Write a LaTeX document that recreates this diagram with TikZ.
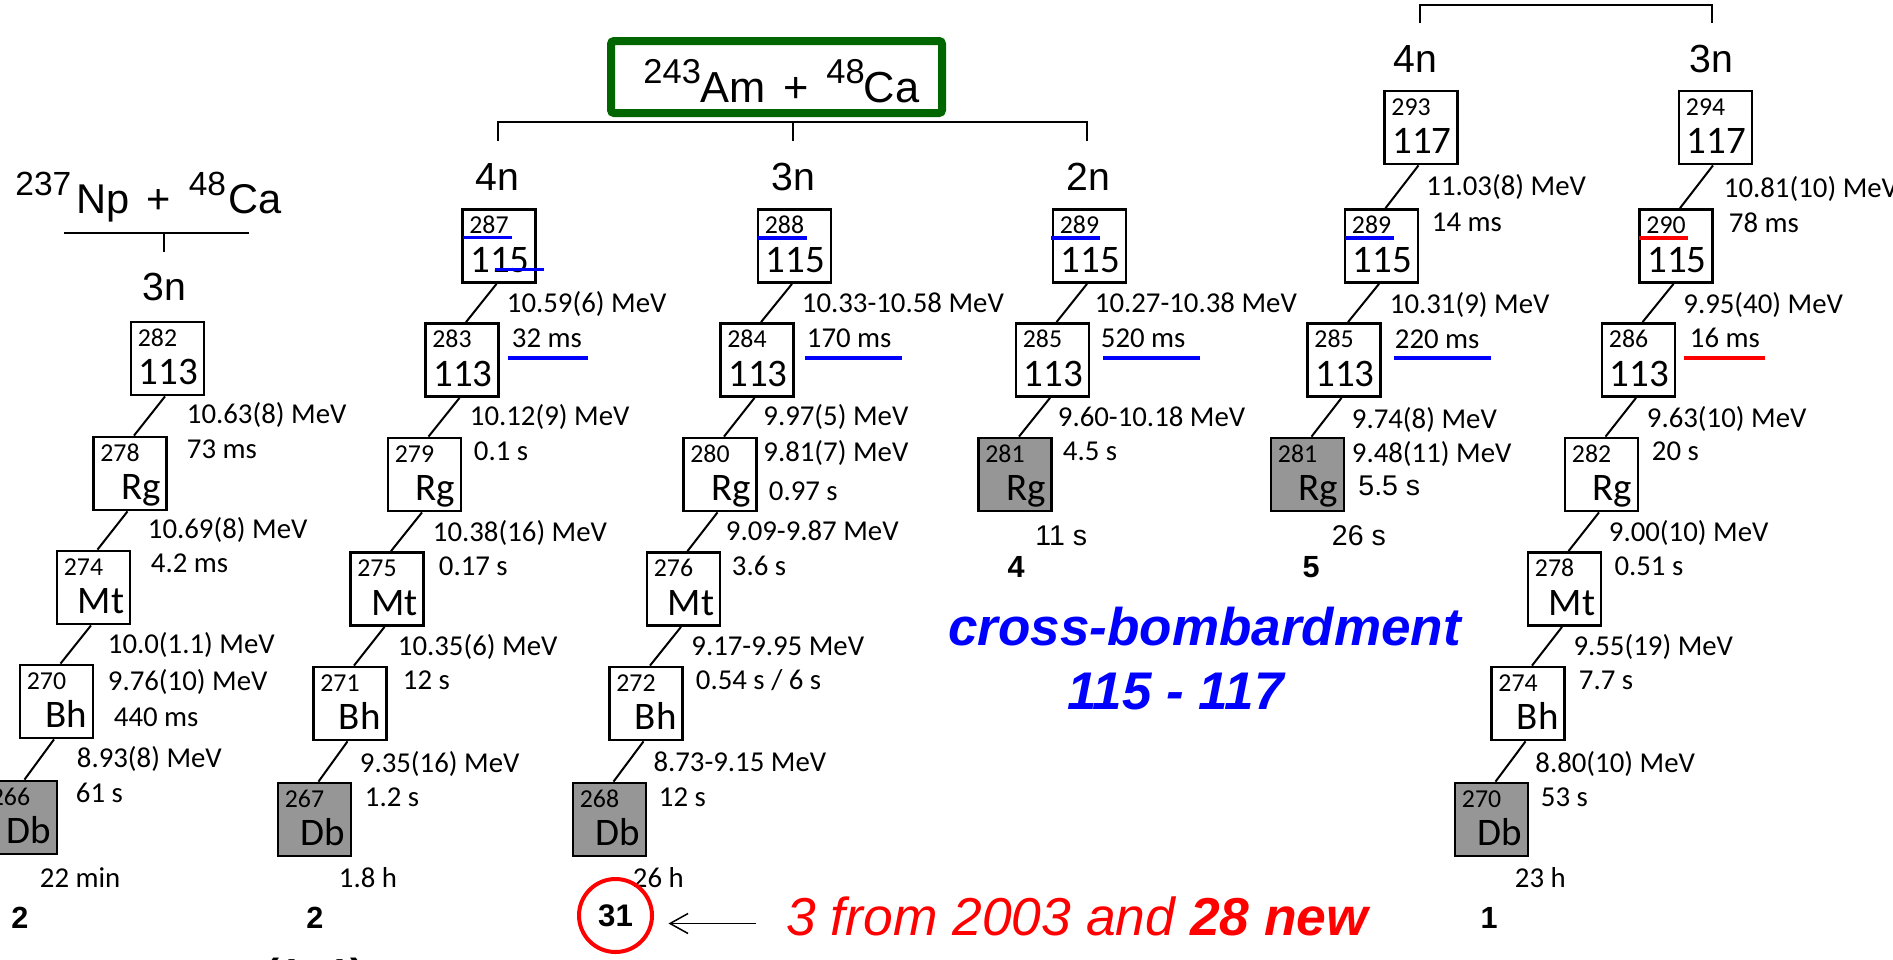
\documentclass[tikz,border=0pt]{standalone}
\usepackage{fontspec}
\setmainfont{Carlito}
\newfontfamily\arial{Liberation Sans}
\usetikzlibrary{arrows.meta,calc}
\definecolor{bxgreen}{RGB}{0,102,0}
\definecolor{bxgray}{RGB}{150,150,150}
\definecolor{ulblue}{RGB}{0,0,255}
\definecolor{ulred}{RGB}{255,0,0}
\tikzset{
 nbox/.style={draw, line width=1.4pt, minimum width=36.5pt, minimum height=36.5pt, inner sep=0pt, fill=white},
 gbox/.style={nbox, fill=bxgray},
 massno/.style={inner sep=0pt, font=\fontsize{12.9pt}{14pt}\selectfont},
 elemno/.style={inner sep=0pt, font=\fontsize{19.5pt}{22pt}\selectfont},
 ann/.style={inner sep=0pt, anchor=base west, xshift=-0.75pt, font=\fontsize{14.4pt}{17pt}\selectfont},
 anna/.style={inner sep=0pt, anchor=base west, xshift=-1pt, font=\arial\fontsize{14.25pt}{17pt}\selectfont},
 conn/.style={line width=1pt},
 brk/.style={line width=1pt},
 chan/.style={inner sep=0pt, anchor=base, font=\arial\fontsize{19.6pt}{22pt}\selectfont},
 cnt/.style={inner sep=0pt, anchor=base, font=\arial\bfseries\fontsize{15.3pt}{18pt}\selectfont},
 ulb/.style={line width=1.65pt, draw=ulblue},
 ulr/.style={line width=1.65pt, draw=ulred},
}
\newcommand\nucbox[6]{%
  \node[#6] (#1) at (#2,#3) {};
  \node[massno,anchor=base west] (#1m) at ($(#1.center)+(-30,-12.5)$) {#4};
  \node[elemno,anchor=base east] (#1e) at ($(#1.center)+(31,26)$) {#5};
}
\begin{document}
\begin{tikzpicture}[x=0.5pt,y=-0.5pt]
\useasboundingbox (0,0) rectangle (1893,959);
\fill[white] (0,0) rectangle (1893,959);

% ---------- reactions ----------
\node[inner sep=0pt, anchor=base west] (np) at (15,213.3)
 {\arial{\fontsize{16.75pt}{20pt}\selectfont\raisebox{9.15pt}{237}}\kern2.5pt{\fontsize{20.8pt}{24pt}\selectfont Np\hspace{8.5pt}+\hspace{9pt}}{\fontsize{16.75pt}{20pt}\selectfont\raisebox{9.15pt}{48}}\kern1pt{\fontsize{20.8pt}{24pt}\selectfont Ca}};
\draw[brk] (64,232.7) -- (249,232.7);
\coordinate (npt) at (164,232.7);
\node[chan] (np3n) at (164.5,300) {3n};
\draw[brk] (npt) -- (164,251.7);

\node[draw=bxgreen, line width=4pt, rounded corners=1.5pt, minimum width=165.5pt, minimum height=36pt, inner sep=0pt] (am) at (776.5,77) {};
\node[inner sep=0pt, anchor=base west] (amtxt) at (643,102.7)
 {\arial{\fontsize{17.25pt}{20pt}\selectfont\raisebox{9.85pt}{243}}{\fontsize{21.7pt}{25pt}\selectfont Am\hspace{8.5pt}+\hspace{9pt}}{\fontsize{17.25pt}{20pt}\selectfont\raisebox{9.85pt}{48}}\kern-0.5pt{\fontsize{21.7pt}{25pt}\selectfont Ca}};
\draw[brk] (498,140.7) -- (498,121.7) -- (1087,121.7) -- (1087,140.7);
\draw[brk] (793,121.7) -- (793,140.7);
\node[chan] (am4n) at (497,190.7) {4n};
\node[chan] (am3n) at (793,190.7) {3n};
\node[chan] (am2n) at (1088,190.7) {2n};

\draw[brk] (1420,23.3) -- (1420,4.5) -- (1712,4.5) -- (1712,23.3);
\node[chan] (bk4n) at (1415,72) {4n};
\node[chan] (bk3n) at (1711,72) {3n};

% ---------- chain A (Np, 3n) ----------
\nucbox{A1}{167.5}{358.5}{282}{113}{nbox}
\nucbox{A2}{130}{473.5}{278}{Rg}{nbox}
\nucbox{A3}{93.5}{587.5}{274}{Mt}{nbox}
\nucbox{A4}{56.5}{701.5}{270}{Bh}{nbox}
\nucbox{A5}{20.5}{817.5}{266}{Db}{gbox}
% ---------- chain B (Am, 4n) ----------
\nucbox{B1}{499}{246}{287}{115}{nbox}
\nucbox{B2}{462}{360}{283}{113}{nbox}
\nucbox{B3}{424.5}{474.5}{279}{Rg}{nbox}
\nucbox{B4}{387}{589}{275}{Mt}{nbox}
\nucbox{B5}{350}{703.5}{271}{Bh}{nbox}
\nucbox{B6}{314.5}{819.5}{267}{Db}{gbox}
% ---------- chain C (Am, 3n) ----------
\nucbox{C1}{794.5}{246}{288}{115}{nbox}
\nucbox{C2}{757}{360}{284}{113}{nbox}
\nucbox{C3}{720}{474.5}{280}{Rg}{nbox}
\nucbox{C4}{683.5}{589}{276}{Mt}{nbox}
\nucbox{C5}{646}{703.5}{272}{Bh}{nbox}
\nucbox{C6}{609.5}{819.5}{268}{Db}{gbox}
% ---------- chain D (Am, 2n) ----------
\nucbox{D1}{1089.5}{246}{289}{115}{nbox}
\nucbox{D2}{1052.5}{360}{285}{113}{nbox}
\nucbox{D3}{1015}{474.5}{281}{Rg}{gbox}
% ---------- chain E (117, 4n) ----------
\nucbox{E1}{1421}{127.5}{293}{117}{nbox}
\nucbox{E2}{1381.5}{246}{289}{115}{nbox}
\nucbox{E3}{1344}{360}{285}{113}{nbox}
\nucbox{E4}{1307.5}{474.5}{281}{Rg}{gbox}
% ---------- chain F (117, 3n) ----------
\nucbox{F1}{1715.5}{127.5}{294}{117}{nbox}
\nucbox{F2}{1676}{246}{290}{115}{nbox}
\nucbox{F3}{1638.5}{360}{286}{113}{nbox}
\nucbox{F4}{1601.5}{474.5}{282}{Rg}{nbox}
\nucbox{F5}{1564.5}{589}{278}{Mt}{nbox}
\nucbox{F6}{1528}{703.5}{274}{Bh}{nbox}
\nucbox{F7}{1491.5}{819.5}{270}{Db}{gbox}

\foreach \a/\b in {A1/A2,A2/A3,A3/A4,A4/A5,B1/B2,B2/B3,B3/B4,B4/B5,B5/B6,C1/C2,C2/C3,C3/C4,C4/C5,C5/C6,D1/D2,D2/D3,E1/E2,E2/E3,E3/E4,F1/F2,F2/F3,F3/F4,F4/F5,F5/F6,F6/F7}
  \draw[conn] ([xshift=-1.25pt]\a.south) -- ([xshift=2pt]\b.north);

% ---------- annotations A ----------
\node[ann] at (188,423) {10.63(8) MeV};
\node[ann] at (188,458) {73 ms};
\node[ann] at (149,538) {10.69(8) MeV};
\node[ann] at (152,572) {4.2 ms};
\node[ann] at (109,653) {10.0(1.1) MeV};
\node[ann] at (109,690) {9.76(10) MeV};
\node[ann] at (115,726) {440 ms};
\node[ann] at (78,767) {8.93(8) MeV};
\node[ann] at (77,802) {61 s};
\node[ann] at (41,887) {22 min};
\node[cnt] (nA) at (20,928) {2};
% ---------- annotations B ----------
\node[ann] at (508,312) {10.59(6) MeV};
\node[ann] at (513,347) {32 ms};
\node[ann] at (471,425) {10.12(9) MeV};
\node[ann] at (475,460) {0.1 s};
\node[ann] at (434,541) {10.38(16) MeV};
\node[ann] at (440,575) {0.17 s};
\node[ann] at (399,655) {10.35(6) MeV};
\node[ann] at (404,689) {12 s};
\node[ann] at (361,772) {9.35(16) MeV};
\node[ann] at (366,806) {1.2 s};
\node[ann] at (340,887) {1.8 h};
\node[cnt] (nB) at (314.8,928) {2};
% ---------- annotations C ----------
\node[ann] at (803,312) {10.33-10.58 MeV};
\node[ann] at (808,347) {170 ms};
\node[ann] at (764.5,425) {9.97(5) MeV};
\node[ann] at (764.5,461) {9.81(7) MeV};
\node[ann] at (770,500) {0.97 s};
\node[ann] at (727,540) {9.09-9.87 MeV};
\node[ann] at (733,575) {3.6 s};
\node[ann] at (692.5,655) {9.17-9.95 MeV};
\node[ann] at (697,689) {0.54 s / 6 s};
\node[ann] at (654.6,771) {8.73-9.15 MeV};
\node[ann] at (660,806) {12 s};
\node[ann] at (634,887) {26 h};
% ---------- annotations D ----------
\node[ann] at (1096,312) {10.27-10.38 MeV};
\node[ann] at (1102,347) {520 ms};
\node[ann] at (1059,426) {9.60-10.18 MeV};
\node[ann] at (1064,460) {4.5 s};
\node[anna] at (1037,545) {11 s};
\node[cnt] (nD) at (1016,577.5) {4};
% ---------- annotations E ----------
\node[ann] at (1427.5,195) {11.03(8) MeV};
\node[ann] at (1433,231) {14 ms};
\node[ann] at (1391,313) {10.31(9) MeV};
\node[ann] at (1396,348) {220 ms};
\node[ann] at (1353,428) {9.74(8) MeV};
\node[ann] at (1353,462) {9.48(11) MeV};
\node[anna] at (1360,495) {5.5 s};
\node[anna] at (1333.5,545) {26 s};
\node[cnt] (nE) at (1311,577.5) {5};
% ---------- annotations F ----------
\node[ann] at (1725,197) {10.81(10) MeV};
\node[ann] at (1730,232) {78 ms};
\node[ann] at (1684.5,313) {9.95(40) MeV};
\node[ann] at (1691,347) {16 ms};
\node[ann] at (1648,427) {9.63(10) MeV};
\node[ann] at (1653,460) {20 s};
\node[ann] at (1610,541) {9.00(10) MeV};
\node[ann] at (1615.6,575) {0.51 s};
\node[ann] at (1574.6,655) {9.55(19) MeV};
\node[ann] at (1580,689) {7.7 s};
\node[ann] at (1536.5,772) {8.80(10) MeV};
\node[ann] at (1542,806) {53 s};
\node[ann] at (1516,887) {23 h};
\node[cnt] (nF) at (1489,928) {1};

% ---------- underlines ----------
\draw[ulb] (463,237.7) -- (512,237.7);
\draw[ulb] (495,269.7) -- (544,269.7);
\draw[ulb] (507.5,358) -- (588,358);
\draw[ulb] (758,238) -- (807,238);
\draw[ulb] (805,358) -- (902,358);
\draw[ulb] (1051,238) -- (1100,238);
\draw[ulb] (1103,358) -- (1200,358);
\draw[ulb] (1345,238) -- (1394,238);
\draw[ulb] (1394,358) -- (1491,358);
\draw[ulr] (1639,238) -- (1688,238);
\draw[ulr] (1684,358) -- (1765,358);

% ---------- texts ----------
\node[inner sep=0pt, anchor=base west, text=ulblue, font=\arial\bfseries\itshape\fontsize{26.5pt}{30pt}\selectfont] (cross) at (948,645) {cross-bombardment};
\node[inner sep=0pt, anchor=base west, text=ulblue, font=\arial\bfseries\itshape\fontsize{26.5pt}{30pt}\selectfont] (range) at (1067,709) {115 - 117};

\node[draw=ulred, line width=2pt, circle, minimum size=36.5pt, inner sep=0pt, font=\arial\bfseries\fontsize{15.6pt}{18pt}\selectfont] (c31) at (615.5,915.5) {31};
\node[inner sep=0pt, anchor=base west, text=ulred, font=\arial\itshape\fontsize{26.7pt}{30pt}\selectfont] (newtxt) at (786,935.5) {3 from 2003 and \textbf{28 new}};
\coordinate (arS) at (756,923.5);
\coordinate (arE) at (668.5,923.5);
\draw[line width=0.75pt, -{Straight Barb[length=9pt,width=10pt]}] (arS) -- (arE);

\node[inner sep=0pt, anchor=base west, font=\arial\bfseries\fontsize{21pt}{24pt}\selectfont] (oneone) at (265,988) {(1+1)};
\end{tikzpicture}
\end{document}
